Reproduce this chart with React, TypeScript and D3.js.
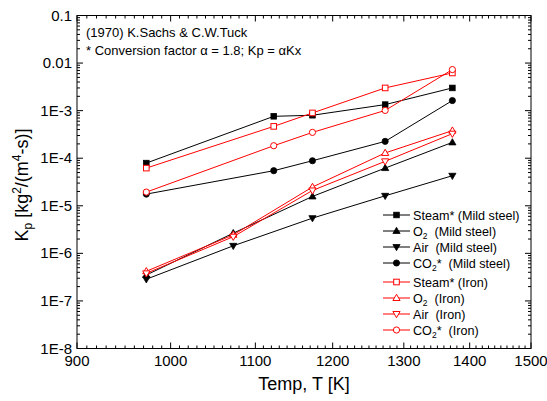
import React from "react";
import * as d3 from "d3";

const temps = [973, 1073, 1123, 1173, 1273, 1373];

const steamMild: (number | null)[] = [7.9e-5, null, 7.6e-4, 8.0e-4, 1.34e-3, 3.0e-3];
const o2Mild: (number | null)[] = [3.5e-7, 2.66e-6, null, 1.57e-5, 6.2e-5, 2.15e-4];
const airMild: (number | null)[] = [2.86e-7, 1.44e-6, null, 5.5e-6, 1.62e-5, 4.28e-5];
const co2Mild: (number | null)[] = [1.76e-5, null, 5.46e-5, 8.85e-5, 2.26e-4, 1.63e-3];
const steamIron: (number | null)[] = [6.2e-5, null, 4.67e-4, 8.95e-4, 3.0e-3, 6.2e-3];
const o2Iron: (number | null)[] = [4.2e-7, 2.45e-6, null, 2.48e-5, 1.29e-4, 3.8e-4];
const airIron: (number | null)[] = [3.8e-7, 2.24e-6, null, 2.1e-5, 8.6e-5, 3.28e-4];
const co2Iron: (number | null)[] = [1.94e-5, null, 1.83e-4, 3.49e-4, 1.01e-3, 7.3e-3];

const xTicks = [900, 1000, 1100, 1200, 1300, 1400, 1500];
const yTicks = [0.1, 0.01, 1e-3, 1e-4, 1e-5, 1e-6, 1e-7, 1e-8];
const yTickLabels = ["0.1", "0.01", "1E-3", "1E-4", "1E-5", "1E-6", "1E-7", "1E-8"];

type Marker = "square" | "up" | "down" | "circle";
interface Series {
  name: string;
  sub: string;
  rest: string;
  values: (number | null)[];
  color: string;
  filled: boolean;
  marker: Marker;
}

const series: Series[] = [
  { name: "Steam*", sub: "", rest: " (Mild steel)", values: steamMild, color: "#000000", filled: true, marker: "square" },
  { name: "O", sub: "2", rest: "  (Mild steel)", values: o2Mild, color: "#000000", filled: true, marker: "up" },
  { name: "Air", sub: "", rest: "  (Mild steel)", values: airMild, color: "#000000", filled: true, marker: "down" },
  { name: "CO", sub: "2", rest: "*  (Mild steel)", values: co2Mild, color: "#000000", filled: true, marker: "circle" },
  { name: "Steam*", sub: "", rest: " (Iron)", values: steamIron, color: "#ff0000", filled: false, marker: "square" },
  { name: "O", sub: "2", rest: "  (Iron)", values: o2Iron, color: "#ff0000", filled: false, marker: "up" },
  { name: "Air", sub: "", rest: "  (Iron)", values: airIron, color: "#ff0000", filled: false, marker: "down" },
  { name: "CO", sub: "2", rest: "*  (Iron)", values: co2Iron, color: "#ff0000", filled: false, marker: "circle" },
];

const W = 547;
const H = 401;
const L = 77;
const R = 531;
const T = 15.5;
const B = 348.5;
const FONT = "'Liberation Sans', Arial, Helvetica, sans-serif";

const x = d3.scaleLog().domain([900, 1500]).range([L, R]);
const y = d3.scaleLog().domain([1e-8, 0.1]).range([B, T]);

function MarkerShape({ m, cx, cy, color, filled }: { m: Marker; cx: number; cy: number; color: string; filled: boolean }) {
  const fill = filled ? color : "#ffffff";
  const sw = filled ? 0.8 : 1;
  if (m === "square") {
    const s = 5.6;
    return <rect x={cx - s / 2} y={cy - s / 2} width={s} height={s} fill={fill} stroke={color} strokeWidth={sw} />;
  }
  if (m === "circle") {
    return <circle cx={cx} cy={cy} r={3.1} fill={fill} stroke={color} strokeWidth={sw} />;
  }
  const h = 6.2;
  const w = 7.2;
  if (m === "up") {
    const p = `M${cx},${cy - h * 0.6}L${cx + w / 2},${cy + h * 0.4}L${cx - w / 2},${cy + h * 0.4}Z`;
    return <path d={p} fill={fill} stroke={color} strokeWidth={sw} />;
  }
  const p = `M${cx},${cy + h * 0.6}L${cx + w / 2},${cy - h * 0.4}L${cx - w / 2},${cy - h * 0.4}Z`;
  return <path d={p} fill={fill} stroke={color} strokeWidth={sw} />;
}

export default function App() {
  const line = d3
    .line<[number, number]>()
    .x((d) => x(d[0]))
    .y((d) => y(d[1]));

  const xMinor = d3.range(900, 1501, 10).filter((v) => v % 100 !== 0);
  const yMinor: number[] = [];
  for (let e = -8; e < -1; e++) {
    for (let k = 2; k <= 9; k++) yMinor.push(k * Math.pow(10, e));
  }

  const legendX = 383;
  const legendY0 = 215;

  return (
    <svg width={W} height={H} style={{ display: "block", position: "absolute", left: 0, top: 0, background: "#fff" }} fontFamily={FONT}>
      <rect x={0} y={0} width={W} height={H} fill="#fff" />
      {/* frame */}
      <rect x={L} y={T} width={R - L} height={B - T} fill="none" stroke="#000" strokeWidth={1} />
      {/* x ticks */}
      {xTicks.map((v) => (
        <g key={"xt" + v}>
          <line x1={x(v)} x2={x(v)} y1={B} y2={B - 6} stroke="#000" />
          <line x1={x(v)} x2={x(v)} y1={T} y2={T + 6} stroke="#000" />
          <text x={x(v)} y={B + 17} textAnchor="middle" fontSize={15}>
            {v}
          </text>
        </g>
      ))}
      {xMinor.map((v) => (
        <g key={"xm" + v}>
          <line x1={x(v)} x2={x(v)} y1={B} y2={B - 3} stroke="#000" />
          <line x1={x(v)} x2={x(v)} y1={T} y2={T + 3} stroke="#000" />
        </g>
      ))}
      {/* y ticks */}
      {yTicks.map((v, i) => (
        <g key={"yt" + i}>
          <line x1={L} x2={L + 6} y1={y(v)} y2={y(v)} stroke="#000" />
          <line x1={R} x2={R - 6} y1={y(v)} y2={y(v)} stroke="#000" />
          <text x={L - 5} y={y(v) + 5} textAnchor="end" fontSize={15}>
            {yTickLabels[i]}
          </text>
        </g>
      ))}
      {yMinor.map((v, i) => (
        <g key={"ym" + i}>
          <line x1={L} x2={L + 3} y1={y(v)} y2={y(v)} stroke="#000" />
          <line x1={R} x2={R - 3} y1={y(v)} y2={y(v)} stroke="#000" />
        </g>
      ))}
      {/* axis titles */}
      <text x={(L + R) / 2} y={390} textAnchor="middle" fontSize={18}>
        Temp, T [K]
      </text>
      <text transform={`translate(28,${(T + B) / 2 + 3}) rotate(-90)`} textAnchor="middle" fontSize={18}>
        K<tspan fontSize={12} dy={4}>p</tspan>
        <tspan dy={-4}> [kg</tspan>
        <tspan fontSize={12} dy={-7}>2</tspan>
        <tspan dy={7}>/(m</tspan>
        <tspan fontSize={12} dy={-7}>4</tspan>
        <tspan dy={7}>-s)]</tspan>
      </text>
      {/* annotation */}
      <text x={86} y={37} fontSize={13}>
        (1970) K.Sachs &amp; C.W.Tuck
      </text>
      <text x={86} y={55} fontSize={13}>
        * Conversion factor α = 1.8; Kp = αKx
      </text>
      {/* series */}
      {series.map((s, si) => {
        const pts: [number, number][] = [];
        s.values.forEach((v, i) => {
          if (v != null) pts.push([temps[i], v]);
        });
        return (
          <g key={"s" + si}>
            <path d={line(pts) || ""} fill="none" stroke={s.color} strokeWidth={1} />
            {pts.map((p, pi) => (
              <MarkerShape key={pi} m={s.marker} cx={x(p[0])} cy={y(p[1])} color={s.color} filled={s.filled} />
            ))}
          </g>
        );
      })}
      {/* legend */}
      {series.map((s, i) => {
        const ly = legendY0 + i * 16 + (i >= 4 ? 3 : 0);
        return (
          <g key={"lg" + i}>
            <line x1={legendX} x2={legendX + 27} y1={ly} y2={ly} stroke={s.color} strokeWidth={1} />
            <MarkerShape m={s.marker} cx={legendX + 13.5} cy={ly} color={s.color} filled={s.filled} />
            <text x={legendX + 30} y={ly + 4.5} fontSize={12.6} xmlSpace="preserve" style={{ whiteSpace: "pre" }}>
              {s.name}
              {s.sub ? (
                <tspan fontSize={8.5} dy={3}>
                  {s.sub}
                </tspan>
              ) : null}
              {s.sub ? <tspan dy={-3}>{s.rest}</tspan> : <tspan>{s.rest}</tspan>}
            </text>
          </g>
        );
      })}
    </svg>
  );
}
